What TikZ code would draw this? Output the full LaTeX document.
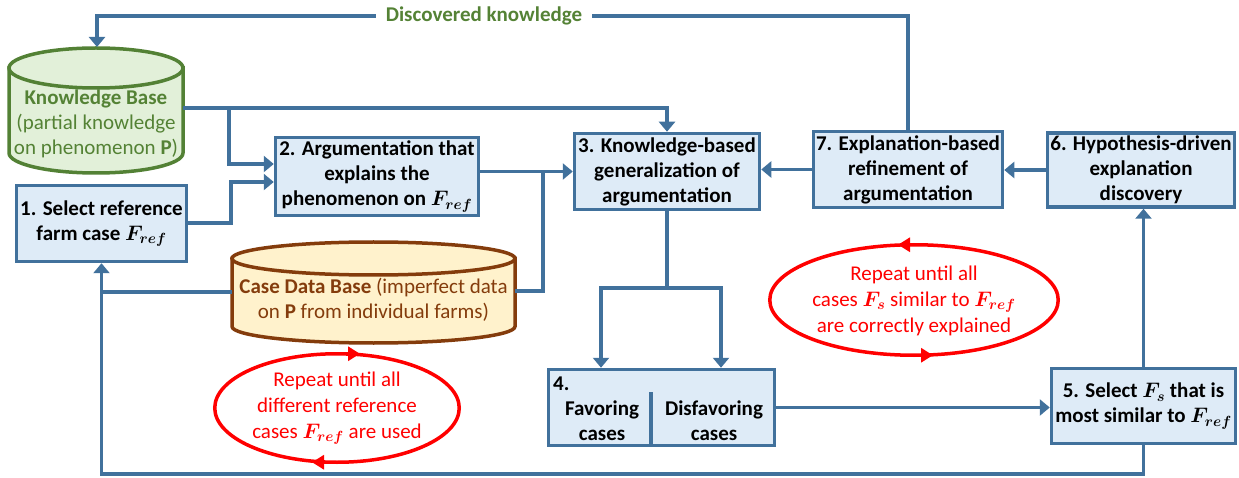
\RequirePackage{fix-cm}
\documentclass[tikz,border=0pt]{standalone}
\usepackage{fontspec}
\setmainfont{Carlito}
\usepackage{amsmath,bm}
\usetikzlibrary{arrows.meta,calc}
\definecolor{cblue}{HTML}{41719C}
\definecolor{boxfill}{HTML}{DEEBF7}
\definecolor{kbfill}{HTML}{E2F0D9}
\definecolor{kbline}{HTML}{538135}
\definecolor{kbtext}{HTML}{548235}
\definecolor{cdfill}{HTML}{FFF2CC}
\definecolor{cdline}{HTML}{843C0C}
\definecolor{cdtext}{HTML}{843C0C}
\definecolor{rred}{HTML}{FF0000}
\newcommand{\Fref}{\ensuremath{\bm{F_{ref}}}}
\newcommand{\Fsim}{\ensuremath{\bm{F_{s}}}}
\begin{document}
\begin{tikzpicture}[x=1pt,y=-1pt,
  every node/.style={font=\fontsize{21}{25}\selectfont},
  box/.style={draw=cblue, fill=boxfill, line width=3.5pt, align=center, inner sep=0pt,
    font=\fontsize{21}{25}\selectfont\bfseries},
  conn/.style={draw=cblue, line width=3.5pt},
  arr/.style={conn, -{Triangle[length=10pt,width=16pt]}},
  loopline/.style={draw=rred, line width=3.5pt},
  redarr/.style={draw=rred, line width=3.5pt, -{Triangle[length=12pt,width=14pt]}},
  looptext/.style={text=rred, align=center, inner sep=0pt, font=\fontsize{21}{26}\selectfont},
]
\useasboundingbox (0,0) rectangle (1239,478);

% Knowledge base cylinder
\path[fill=kbfill, draw=kbline, line width=3.5pt] (9,68) -- (9,153) arc[start angle=180, end angle=0, x radius=87, y radius=20] -- (183,68) -- cycle;
\path[fill=kbfill, draw=kbline, line width=3.5pt] (96,68) ellipse [x radius=87, y radius=20];
\node[text=kbtext, align=center, inner sep=0pt] (kb) at (96,124) {\textbf{Knowledge Base}\\(partial knowledge\\on phenomenon \textbf{P})};

% Case data base cylinder
\path[fill=cdfill, draw=cdline, line width=3.5pt] (232,258.5) -- (232,326.5) arc[start angle=180, end angle=0, x radius=141.5, y radius=16.5] -- (515,258.5) -- cycle;
\path[fill=cdfill, draw=cdline, line width=3.5pt] (373.5,258.5) ellipse [x radius=141.5, y radius=16.5];
\node[text=cdtext, align=center, inner sep=0pt] (cdb) at (373.5,300) {\textbf{Case Data Base} (imperfect data\\on \textbf{P} from individual farms)};

% boxes
\node[box, minimum width=170pt, minimum height=76pt] (b1) at (101.5,223.5) {1. Select reference\\farm case \Fref};
\node[box, minimum width=203pt, minimum height=78pt] (b2) at (377,176.5) {2. Argumentation that\\explains the\\phenomenon on \Fref};
\node[box, minimum width=185pt, minimum height=76pt] (b3) at (667,171.5) {3. Knowledge-based\\generalization of\\argumentation};
\node[box, minimum width=189pt, minimum height=76pt] (b7) at (908,169.5) {7. Explanation-based\\refinement of\\argumentation};
\node[box, minimum width=187pt, minimum height=74pt] (b6) at (1141,170) {6. Hypothesis-driven\\explanation\\discovery};
\node[box, minimum width=184pt, minimum height=75pt] (b5) at (1143.5,406) {5. Select \Fsim{} that is\\most similar to \Fref};
\node[box, minimum width=226pt, minimum height=76pt] (b4) at (661.5,407.5) {};
\draw[conn] (651,392) -- (651,446);
\node[anchor=west, inner sep=0pt, font=\fontsize{21}{25}\selectfont\bfseries] (b4n) at (553,384) {4.};
\node[align=center, inner sep=0pt, font=\fontsize{21}{25}\selectfont\bfseries] (fav) at (602,421) {Favoring\\cases};
\node[align=center, inner sep=0pt, font=\fontsize{21}{25}\selectfont\bfseries] (dis) at (714,421) {Disfavoring\\cases};

% coordinates
\coordinate (kbE) at (183,108);
\coordinate (jA) at (229,108);
\coordinate (b1E) at (188,223);
\coordinate (jB) at (543,171.5);
\coordinate (cdbE) at (515,291);
\coordinate (cdbW) at (232,292);
\coordinate (jC) at (101.5,292);
\coordinate (jD) at (101.5,474);
\coordinate (jE) at (667,288);
\coordinate (tL) at (97,16);
\coordinate (kbN) at (97,47);

% connectors
\draw[arr] (kbE) -| (b3.north);
\draw[arr] (jA) |- ($(b2.west)+(0,-12.5)$);
\draw[arr] (b1E) -- (231,223) |- ($(b2.west)+(0,5.5)$);
\draw[arr] (b2.east |- b3.west) -- (b3.west);
\draw[conn] (cdbE) -| (jB);
\draw[conn] (cdbW) -- (jC);
\draw[arr] (b5.south) |- (jD) -- (b1.south);
\draw[conn] (b3.south) -- (jE);
\draw[arr] (jE) -| ($(b4.north)+(-60.5,0)$);
\draw[arr] (jE) -| ($(b4.north)+(59.5,0)$);
\draw[arr] (b4.east) -- (b5.west |- b4.east);
\draw[arr] (b5.north) -- (b6.south -| b5.north);
\draw[arr] (b6.west) -- (b7.east |- b6.west);
\draw[arr] (b7.west) -- (b3.east |- b7.west);
\draw[arr] (b7.north) |- (tL) -- (kbN);
\node[fill=white, text=kbtext, inner xsep=10pt, inner ysep=2pt, font=\fontsize{21}{25}\selectfont\bfseries] (dk) at (484,16) {Discovered knowledge};

% repeat loops
\node[looptext] (r1) at (337,408) {Repeat until all\\different reference\\cases \Fref{} are used};
\draw[loopline] (r1.center) ellipse [x radius=122.25, y radius=54.25];
\draw[redarr] (346,353.75) -- (360,353.75);
\draw[redarr] (326,462.25) -- (312,462.25);

\node[looptext] (r2) at (914,300.5) {Repeat until all\\cases \Fsim{} similar to \Fref\\are correctly explained};
\draw[loopline] (914,300) ellipse [x radius=144.25, y radius=55.25];
\draw[redarr] (912,244.75) -- (898,244.75);
\draw[redarr] (919,355.25) -- (933,355.25);
\end{tikzpicture}
\end{document}
